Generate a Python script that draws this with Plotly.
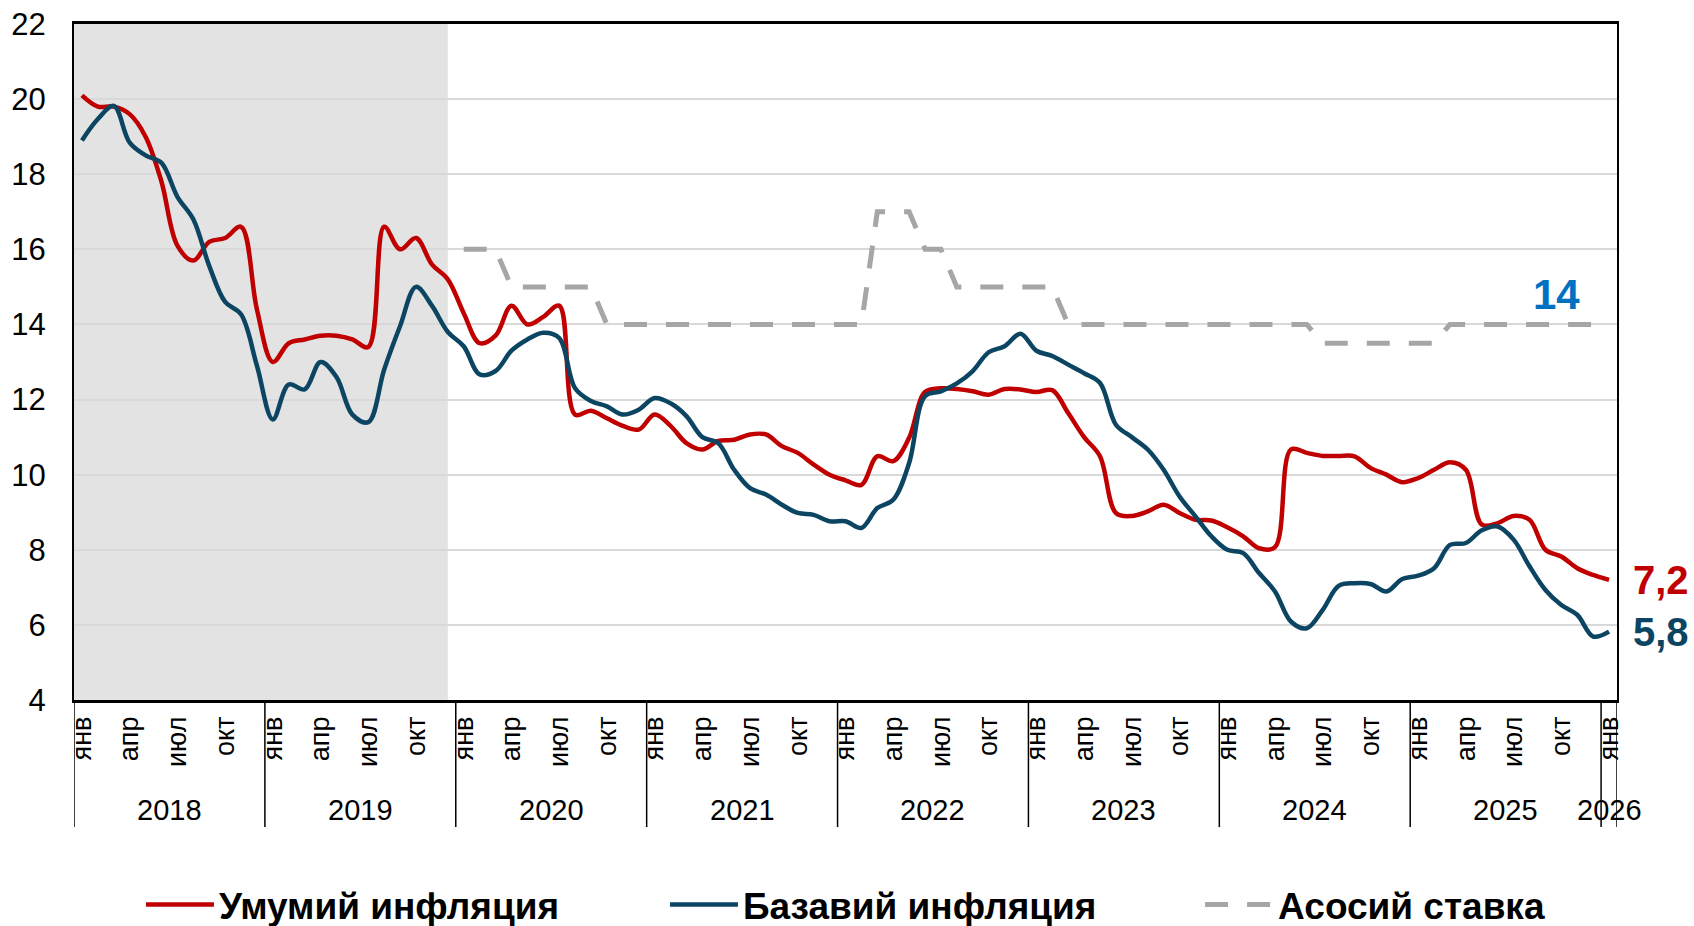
import plotly.graph_objects as go

# months Jan 2018 .. Jan 2026
anos = [2018, 2019, 2020, 2021, 2022, 2023, 2024, 2025, 2026]
meses_rotulo = ["янв", "апр", "июл", "окт"]

umumiy = [
    20.1, 19.8, 19.8, 19.6, 19.0, 17.8, 16.1, 15.7, 16.2, 16.3, 16.6, 14.4,
    13.0, 13.5, 13.6, 13.7, 13.7, 13.6, 13.4, 16.6, 16.0, 16.3, 15.6, 15.2,
    14.3, 13.5, 13.7, 14.5, 14.0, 14.2, 14.5, 11.6, 11.7, 11.5, 11.3, 11.2,
    11.6, 11.3, 10.84, 10.67, 10.9, 10.93, 11.07, 11.07, 10.76, 10.58, 10.27, 10.0,
    9.85, 9.73, 10.49, 10.36, 10.98, 12.2, 12.3, 12.28, 12.22, 12.13, 12.28, 12.27,
    12.2, 12.25, 11.64, 11.0, 10.49, 8.98, 8.9, 9.02, 9.2, 8.98, 8.8, 8.78,
    8.6, 8.36, 8.04, 8.07, 10.67, 10.58, 10.5, 10.5, 10.49, 10.18, 10.0, 9.8,
    9.91, 10.13, 10.33, 10.13, 8.67, 8.71, 8.9, 8.8, 8.0, 7.82, 7.51, 7.33,
    7.2,
]

bazaviy = [
    18.9, 19.47, 19.82, 18.84, 18.5, 18.3, 17.4, 16.8, 15.56, 14.6, 14.27, 12.9,
    11.47, 12.4, 12.27, 13.0, 12.6, 11.6, 11.4, 12.8, 13.96, 15.0, 14.5, 13.8,
    13.42, 12.67, 12.76, 13.3, 13.6, 13.78, 13.64, 12.3, 11.96, 11.82, 11.6, 11.73,
    12.04, 11.9, 11.56, 11.0, 10.84, 10.13, 9.64, 9.47, 9.2, 8.98, 8.93, 8.76,
    8.76, 8.58, 9.11, 9.33, 10.31, 12.09, 12.22, 12.43, 12.76, 13.26, 13.42, 13.75,
    13.3, 13.16, 12.93, 12.7, 12.44, 11.33, 11.0, 10.67, 10.13, 9.42, 8.89, 8.36,
    8.0, 7.91, 7.38, 6.89, 6.09, 5.91, 6.4, 7.04, 7.11, 7.09, 6.89, 7.22,
    7.31, 7.51, 8.13, 8.18, 8.52, 8.62, 8.27, 7.56, 6.93, 6.53, 6.27, 5.69,
    5.82,
]

# policy rate only from Jan 2020
stavka = [None] * 24 + [
    16, 16, 16, 15, 15, 15, 15, 15, 15, 14, 14, 14,
    14, 14, 14, 14, 14, 14, 14, 14, 14, 14, 14, 14,
    14, 14, 17, 17, 17, 16, 16, 15, 15, 15, 15, 15,
    15, 15, 14, 14, 14, 14, 14, 14, 14, 14, 14, 14,
    14, 14, 14, 14, 14, 14, 13.5, 13.5, 13.5, 13.5, 13.5, 13.5,
    13.5, 13.5, 14, 14, 14, 14, 14, 14, 14, 14, 14, 14,
    14,
]

x = list(range(len(umumiy)))

QIZIL = "#C00000"
KOK = "#0B4562"
KULRANG = "#A6A6A6"
FONT = "Liberation Sans"

fig = go.Figure()

fig.add_trace(go.Scatter(
    x=x, y=stavka, name="Асосий ставка", mode="lines",
    line=dict(color=KULRANG, width=5, dash="23px,19px"),
    legend="legend3", showlegend=True,
))
fig.add_trace(go.Scatter(
    x=x, y=umumiy, name="Умумий инфляция", mode="lines",
    line=dict(color=QIZIL, width=4.5, shape="spline", smoothing=1),
    legend="legend", showlegend=True,
))
fig.add_trace(go.Scatter(
    x=x, y=bazaviy, name="Базавий инфляция", mode="lines",
    line=dict(color=KOK, width=4.5, shape="spline", smoothing=1),
    legend="legend2", showlegend=True,
))

# shaded 2018-2019
fig.add_shape(type="rect", xref="x", yref="y", x0=-0.5, x1=23, y0=4, y1=22,
              fillcolor="#E3E3E3", line_width=0, layer="below")

# year dividers under the axis
for i in range(len(anos)):
    fig.add_shape(type="line", xref="x", yref="paper", x0=i * 12 - 0.5, x1=i * 12 - 0.5,
                  y0=0, y1=-0.188, line=dict(color="black", width=1.5))
fig.add_shape(type="line", xref="x", yref="paper", x0=len(x) - 0.5, x1=len(x) - 0.5,
              y0=0, y1=-0.188, line=dict(color="black", width=1.5))

# year labels
for i, ano in enumerate(anos):
    xc = min(i * 12 + 5.5, len(x) - 1)
    fig.add_annotation(x=xc, y=-0.163, xref="x", yref="paper", yanchor="middle",
                       text=str(ano), showarrow=False,
                       font=dict(size=29, color="black", family=FONT))

# end labels
fig.add_annotation(x=x[-1], y=stavka[-1], text=f"{stavka[-1]:g}", showarrow=False,
                   xshift=-53, yshift=30,
                   font=dict(size=42, color="#0070C0", family=FONT, weight="bold"))
fig.add_annotation(x=1.009, xref="paper", y=umumiy[-1], text=f"{umumiy[-1]:.1f}".replace(".", ","),
                   showarrow=False, xanchor="left",
                   font=dict(size=40, color=QIZIL, family=FONT, weight="bold"))
fig.add_annotation(x=1.009, xref="paper", y=bazaviy[-1], text=f"{bazaviy[-1]:.1f}".replace(".", ","),
                   showarrow=False, xanchor="left",
                   font=dict(size=40, color=KOK, family=FONT, weight="bold"))

tickvals = list(range(0, len(x), 3))
ticktext = [meses_rotulo[(v // 3) % 4] for v in tickvals]

legend_style = dict(
    orientation="h", yref="container", y=0.0227, xanchor="left", yanchor="middle",
    font=dict(size=37, family=FONT, weight="bold", color="black"),
    itemwidth=68, bgcolor="rgba(0,0,0,0)",
)

fig.update_layout(
    width=1694, height=926,
    template="plotly_white",
    plot_bgcolor="white",
    paper_bgcolor="white",
    showlegend=True,
    margin=dict(l=74, r=77, t=24, b=226, autoexpand=False),
    font=dict(family=FONT, color="black"),
    xaxis=dict(
        range=[-0.5, len(x) - 0.5],
        tickmode="array", tickvals=tickvals, ticktext=ticktext,
        tickangle=-90, tickfont=dict(size=27),
        showgrid=False, zeroline=False,
        showline=True, linecolor="black", linewidth=2.5, mirror=True,
        ticks="", ticklabelstandoff=3, automargin=False,
    ),
    yaxis=dict(
        range=[4, 22], dtick=2, tickfont=dict(size=31),
        showgrid=True, gridcolor="#D9D9D9", gridwidth=2,
        zeroline=False,
        showline=True, linecolor="black", linewidth=2, mirror=True,
        ticks="", ticklabelstandoff=20, automargin=False,
    ),
    legend=dict(legend_style, x=0.0434),
    legend2=dict(legend_style, x=0.383),
    legend3=dict(legend_style, x=0.7298),
)

fig.write_html("out.html", post_script="document.body.style.margin='0';",
               config={"displayModeBar": False})
